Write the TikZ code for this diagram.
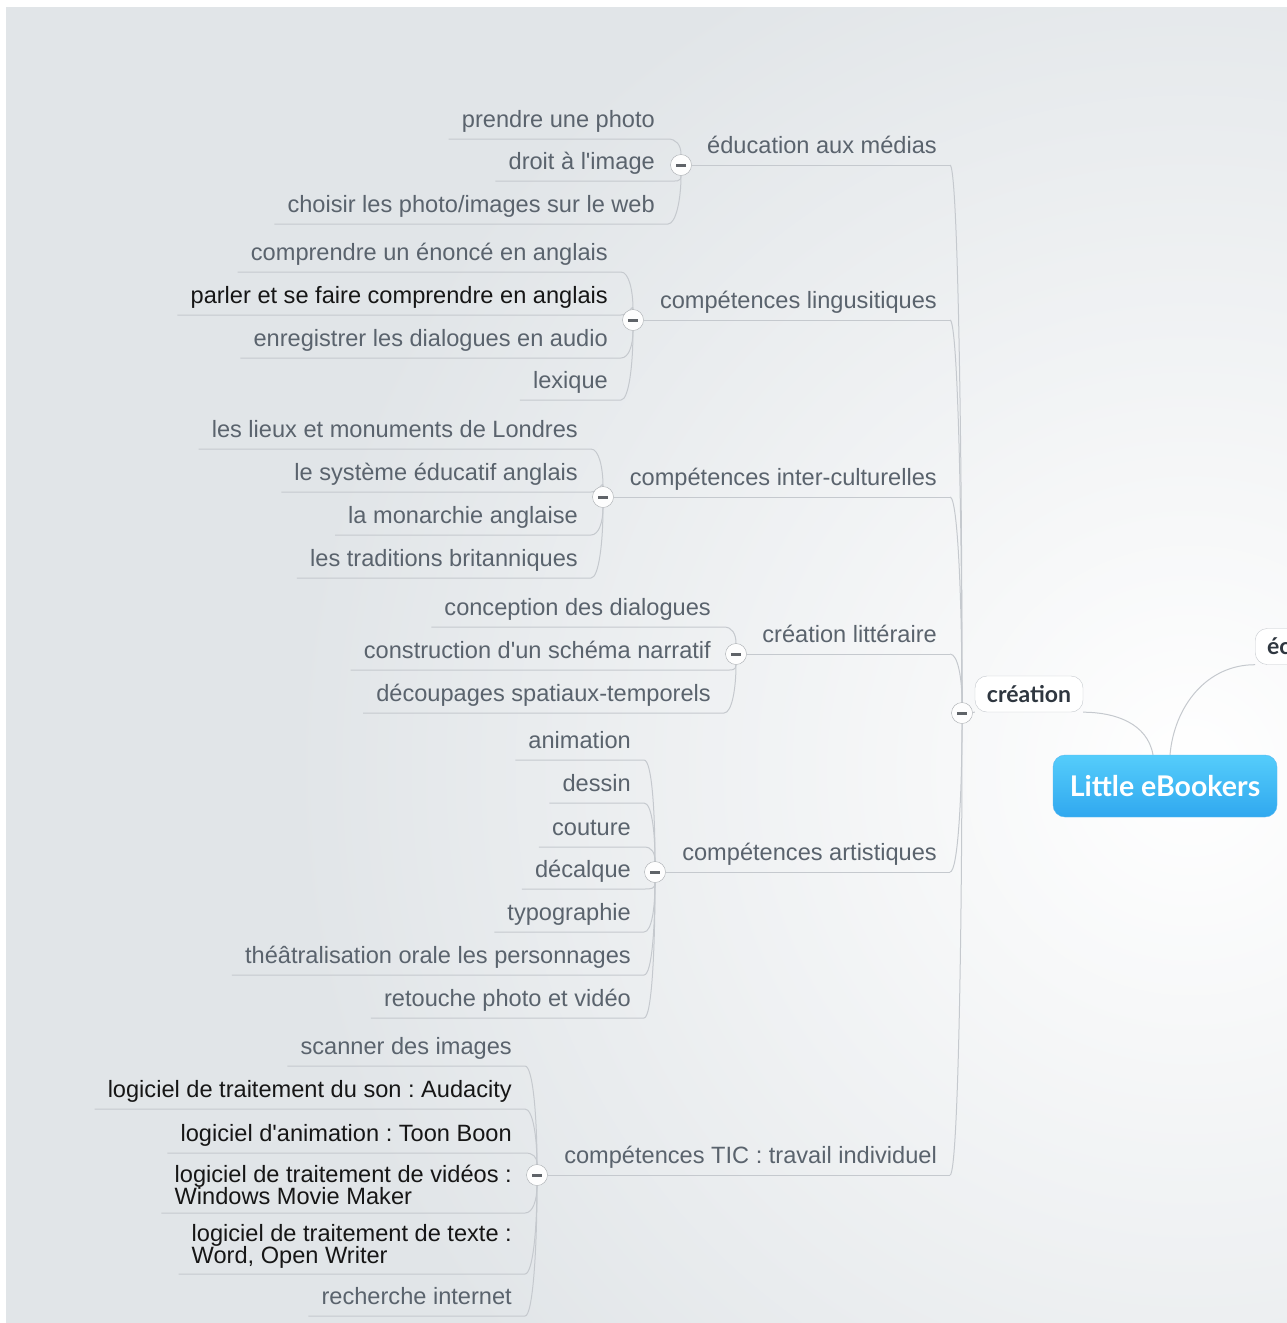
\documentclass[tikz,border=0pt]{standalone}
\usepackage{fontspec}
\setmainfont{Liberation Sans}
\newfontfamily\headfont{Lato}
\usetikzlibrary{backgrounds}
\frenchspacing
\newcommand{\tightlines}{\lineskiplimit=-20pt\relax}
\definecolor{mapBack}{HTML}{E1E5E8}
\definecolor{mapText}{HTML}{5A636D}
\definecolor{mapDark}{HTML}{161616}
\definecolor{mapLine}{HTML}{C5C9CE}
\definecolor{mapHead}{HTML}{2F3740}
\definecolor{mapMinus}{HTML}{5F6368}
\definecolor{rootTop}{HTML}{55CDFB}
\definecolor{rootBottom}{HTML}{30A8EF}
\tikzset{
    mapLeaf/.style={
        anchor=south east,
        font=\fontsize{23.6}{26}\selectfont,
        text=mapText,
        text height=17pt,
        text depth=5pt,
        inner xsep=13pt,
        inner ysep=6.5pt
    },
    mapLeafTwo/.style={
        anchor=south east,
        align=left,
        font={\fontsize{23.6}{22.3}\selectfont\tightlines},
        text=mapDark,
        inner xsep=13pt,
        inner ysep=8pt
    },
    mapPill/.style={
        draw=mapLine,
        fill=white,
        rounded corners=12pt,
        minimum height=36pt,
        inner sep=0pt,
        text=mapHead,
        font=\headfont\bfseries\fontsize{23}{25}\selectfont
    },
    mapRoot/.style={
        draw=rootBottom!80!white,
        top color=rootTop,
        bottom color=rootBottom,
        rounded corners=12pt,
        minimum width=224pt,
        minimum height=62pt,
        inner sep=0pt,
        text=white,
        font=\headfont\bfseries\fontsize{28.5}{30}\selectfont
    },
    mapToggle/.style={
        circle,
        draw=mapLine!85!black,
        fill=white!92!mapBack,
        minimum size=21pt,
        inner sep=0pt,
        path picture={
            \fill[mapMinus] ([xshift=-5pt,yshift=-1.5pt]path picture bounding box.center)
                rectangle ([xshift=5pt,yshift=1.5pt]path picture bounding box.center);
        }
    },
    mapLink/.style={
        draw=mapLine,
        line width=1pt
    },
    mapUp/.style={out=90,in=0,out looseness=1.2,in distance=8pt},
    mapDown/.style={out=-90,in=0,out looseness=1.2,in distance=8pt}
}
\begin{document}
\begin{tikzpicture}[x=1pt,y=-1pt]
    \useasboundingbox (0,0) rectangle (1287,1323);
    \begin{scope}[on background layer]
        \fill[white] (0,0) rectangle (1287,1323);
        \fill[mapBack] (6,7) rectangle (1287,1323);
        \clip (6,7) rectangle (1287,1323);
        \shade[inner color=white,outer color=mapBack] (1190,770) circle[radius=900pt];
    \end{scope}

    % centre
    \node[mapRoot] (root) at (1165,786) {Little eBookers};
    \node[mapPill,minimum width=108pt] (crea) at (1029,694) {création};
    \node[mapPill,anchor=west,inner xsep=12pt] (ec) at (1255,646.5) {éc};
    \node[mapToggle] (tCrea) at (962,713) {};

    % branches
    \node[mapLeaf] (edu) at (950,165) {éducation aux médias};
    \node[mapLeaf] (ling) at (950,320) {compétences lingusitiques};
    \node[mapLeaf] (inter) at (950,497) {compétences inter-culturelles};
    \node[mapLeaf] (litt) at (950,654) {création littéraire};
    \node[mapLeaf] (arts) at (950,872) {compétences artistiques};
    \node[mapLeaf] (tic) at (950,1175) {compétences TIC : travail individuel};

    \node[mapToggle] (tEdu) at (681,165) {};
    \node[mapToggle] (tLing) at (633,320) {};
    \node[mapToggle] (tInter) at (603,497) {};
    \node[mapToggle] (tLitt) at (736,654) {};
    \node[mapToggle] (tArts) at (655,872) {};
    \node[mapToggle] (tTic) at (537,1175) {};

    % éducation aux médias
    \node[mapLeaf] (edu1) at (668,139) {prendre une photo};
    \node[mapLeaf] (edu2) at (668,181) {droit à l\textquotesingle image};
    \node[mapLeaf] (edu3) at (668,224) {choisir les photo/images sur le web};

    % compétences lingusitiques
    \node[mapLeaf] (ling1) at (621,272) {comprendre un énoncé en anglais};
    \node[mapLeaf,text=mapDark] (ling2) at (621,315) {parler et se faire comprendre en anglais};
    \node[mapLeaf] (ling3) at (621,358) {enregistrer les dialogues en audio};
    \node[mapLeaf] (ling4) at (621,400) {lexique};

    % compétences inter-culturelles
    \node[mapLeaf] (inter1) at (591,449) {les lieux et monuments de Londres};
    \node[mapLeaf] (inter2) at (591,492) {le système éducatif anglais};
    \node[mapLeaf] (inter3) at (591,535) {la monarchie anglaise};
    \node[mapLeaf] (inter4) at (591,578) {les traditions britanniques};

    % création littéraire
    \node[mapLeaf] (litt1) at (724,627) {conception des dialogues};
    \node[mapLeaf] (litt2) at (724,670) {construction d\textquotesingle un schéma narratif};
    \node[mapLeaf] (litt3) at (724,713) {découpages spatiaux-temporels};

    % compétences artistiques
    \node[mapLeaf] (arts1) at (644,760) {animation};
    \node[mapLeaf] (arts2) at (644,803) {dessin};
    \node[mapLeaf] (arts3) at (644,847) {couture};
    \node[mapLeaf] (arts4) at (644,889) {décalque};
    \node[mapLeaf] (arts5) at (644,932) {typographie};
    \node[mapLeaf] (arts6) at (644,975) {théâtralisation orale les personnages};
    \node[mapLeaf] (arts7) at (644,1018) {retouche photo et vidéo};

    % compétences TIC
    \node[mapLeaf] (tic1) at (525,1066) {scanner des images};
    \node[mapLeaf,text=mapDark] (tic2) at (525,1109) {logiciel de traitement du son : Audacity};
    \node[mapLeaf,text=mapDark] (tic3) at (525,1153) {logiciel d\textquotesingle animation : Toon Boon};
    \node[mapLeafTwo] (tic4) at (525,1213) {logiciel de traitement de vidéos :\\Windows Movie Maker};
    \node[mapLeafTwo,inner ysep=5pt] (tic5) at (525,1274) {logiciel de traitement de texte :\\Word, Open Writer};
    \node[mapLeaf] (tic6) at (525,1316) {recherche internet};

    \begin{scope}[on background layer]
        \draw[mapLink] ([xshift=-12pt]root.north) to[out=100,in=0] (crea.south east);
        \draw[mapLink] ([xshift=5pt]root.north) to[out=85,in=180] (ec.south west);
        \draw[mapLink] (tCrea) -- (crea.south west);

        \draw[mapLink] (tCrea) to[mapUp] (edu.south east);
        \draw[mapLink] (tCrea) to[mapUp] (ling.south east);
        \draw[mapLink] (tCrea) to[mapUp] (inter.south east);
        \draw[mapLink] (tCrea) to[mapUp] (litt.south east);
        \draw[mapLink] (tCrea) to[mapDown] (arts.south east);
        \draw[mapLink] (tCrea) to[mapDown] (tic.south east);

        \draw[mapLink] (tEdu) -- (edu.south east);
        \draw[mapLink] (tLing) -- (ling.south east);
        \draw[mapLink] (tInter) -- (inter.south east);
        \draw[mapLink] (tLitt) -- (litt.south east);
        \draw[mapLink] (tArts) -- (arts.south east);
        \draw[mapLink] (tTic) -- (tic.south east);

        \draw[mapLink] (tEdu) to[mapUp] (edu1.south east) -- (edu1.south west);
        \draw[mapLink] (tEdu) to[mapDown] (edu2.south east) -- (edu2.south west);
        \draw[mapLink] (tEdu) to[mapDown] (edu3.south east) -- (edu3.south west);

        \draw[mapLink] (tLing) to[mapUp] (ling1.south east) -- (ling1.south west);
        \draw[mapLink] (tLing) to[mapUp] (ling2.south east) -- (ling2.south west);
        \draw[mapLink] (tLing) to[mapDown] (ling3.south east) -- (ling3.south west);
        \draw[mapLink] (tLing) to[mapDown] (ling4.south east) -- (ling4.south west);

        \draw[mapLink] (tInter) to[mapUp] (inter1.south east) -- (inter1.south west);
        \draw[mapLink] (tInter) to[mapUp] (inter2.south east) -- (inter2.south west);
        \draw[mapLink] (tInter) to[mapDown] (inter3.south east) -- (inter3.south west);
        \draw[mapLink] (tInter) to[mapDown] (inter4.south east) -- (inter4.south west);

        \draw[mapLink] (tLitt) to[mapUp] (litt1.south east) -- (litt1.south west);
        \draw[mapLink] (tLitt) to[mapDown] (litt2.south east) -- (litt2.south west);
        \draw[mapLink] (tLitt) to[mapDown] (litt3.south east) -- (litt3.south west);

        \draw[mapLink] (tArts) to[mapUp] (arts1.south east) -- (arts1.south west);
        \draw[mapLink] (tArts) to[mapUp] (arts2.south east) -- (arts2.south west);
        \draw[mapLink] (tArts) to[mapUp] (arts3.south east) -- (arts3.south west);
        \draw[mapLink] (tArts) to[mapDown] (arts4.south east) -- (arts4.south west);
        \draw[mapLink] (tArts) to[mapDown] (arts5.south east) -- (arts5.south west);
        \draw[mapLink] (tArts) to[mapDown] (arts6.south east) -- (arts6.south west);
        \draw[mapLink] (tArts) to[mapDown] (arts7.south east) -- (arts7.south west);

        \draw[mapLink] (tTic) to[mapUp] (tic1.south east) -- (tic1.south west);
        \draw[mapLink] (tTic) to[mapUp] (tic2.south east) -- (tic2.south west);
        \draw[mapLink] (tTic) to[mapUp] (tic3.south east) -- (tic3.south west);
        \draw[mapLink] (tTic) to[mapDown] (tic4.south east) -- (tic4.south west);
        \draw[mapLink] (tTic) to[mapDown] (tic5.south east) -- (tic5.south west);
        \draw[mapLink] (tTic) to[mapDown] (tic6.south east) -- (tic6.south west);
    \end{scope}
\end{tikzpicture}
\end{document}
